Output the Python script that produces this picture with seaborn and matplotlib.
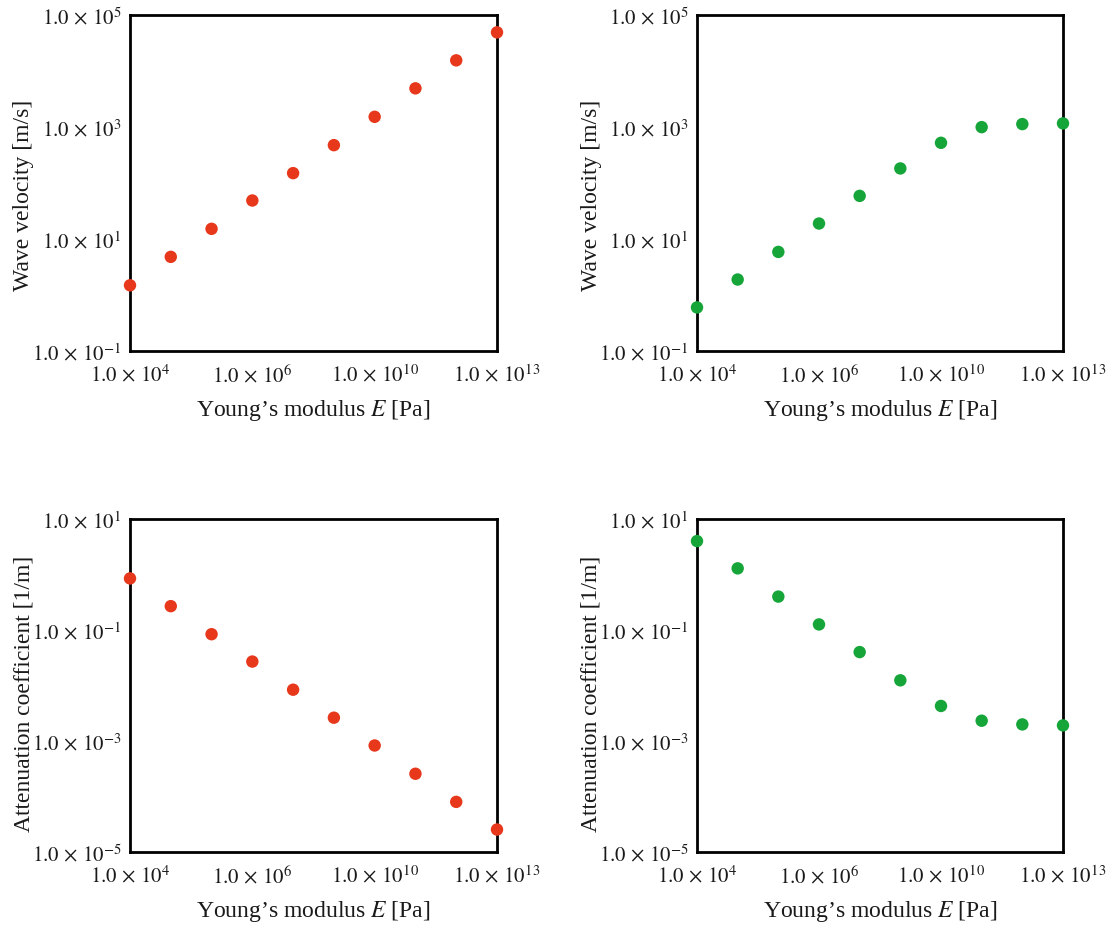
import matplotlib
matplotlib.use("Agg")
import matplotlib.pyplot as plt
import pandas as pd
import seaborn as sns
from matplotlib.ticker import NullLocator

# Young's modulus sweep (Pa)
modulus = [1e4, 1e5, 1e6, 1e7, 1e8, 1e9, 1e10, 1e11, 1e12, 1e13]

# Wave velocity (m/s)
velocity_red = [1.49, 4.8, 15.2, 48.7, 150, 474, 1520, 4900, 15500, 49000]
velocity_green = [0.60, 1.89, 5.88, 18.9, 58.9, 182, 522, 995, 1127, 1160]

# Attenuation coefficient (1/m)
atten_red = [0.85, 0.269, 0.084, 0.027, 0.0084, 0.00263, 0.00083, 0.000257, 8.0e-5, 2.54e-5]
atten_green = [4.0, 1.29, 0.40, 0.126, 0.040, 0.0124, 0.00428, 0.00232, 0.00199, 0.00191]

# Tick positions / label exponents
x_tick_pos = [1e4, 1e7, 1e10, 1e13]
x_tick_exp = [4, 6, 10, 13]
vel_tick_exp = [-1, 1, 3, 5]
att_tick_exp = [-5, -3, -1, 1]

RED = "#e8381c"
GREEN = "#16a539"
TEXT = "#1a1a1a"

sns.set_style("white")
plt.rcParams["font.family"] = ["Liberation Serif", "DejaVu Serif"]
plt.rcParams["mathtext.fontset"] = "stix"

W, H = 1117, 929
fig = plt.figure(figsize=(W / 100, H / 100), dpi=100)


def add_axes_px(left, top, right, bottom):
    return fig.add_axes([left / W, 1 - bottom / H, (right - left) / W, (bottom - top) / H])


def sci(e):
    return r"$1.0\,\times\,10^{%d}$" % e


panels = [
    ((130, 16, 497, 352), velocity_red, RED, vel_tick_exp, "Wave velocity [m/s]", 0.467),
    ((697, 16, 1063, 352), velocity_green, GREEN, vel_tick_exp, "Wave velocity [m/s]", 0.467),
    ((130, 520, 497, 853), atten_red, RED, att_tick_exp, "Attenuation coefficient [1/m]", 0.479),
    ((697, 520, 1063, 853), atten_green, GREEN, att_tick_exp, "Attenuation coefficient [1/m]", 0.479),
]

for rect, values, color, yexp, ylabel, ylab_y in panels:
    ax = add_axes_px(*rect)
    df = pd.DataFrame({"E": modulus, "v": values})
    sns.scatterplot(data=df, x="E", y="v", ax=ax, color=color, s=80,
                    edgecolor="none", linewidth=0, clip_on=False, zorder=3)
    ax.set_xscale("log")
    ax.set_yscale("log")
    ax.set_xlim(modulus[0], modulus[-1])
    yticks = [10.0 ** e for e in yexp]
    ax.set_ylim(yticks[0], yticks[-1])
    ax.set_xticks(x_tick_pos)
    ax.set_xticklabels([sci(e) for e in x_tick_exp])
    ax.set_yticks(yticks)
    ax.set_yticklabels([sci(e) for e in yexp])
    ax.xaxis.set_minor_locator(NullLocator())
    ax.yaxis.set_minor_locator(NullLocator())
    ax.tick_params(axis="both", length=0, labelsize=15, colors=TEXT)
    ax.tick_params(axis="x", pad=9)
    ax.tick_params(axis="y", pad=6)
    for sp in ax.spines.values():
        sp.set_visible(True)
        sp.set_color("black")
        sp.set_linewidth(2.0)
    ax.set_xlabel("Young’s modulus $E$ [Pa]", fontsize=17, color=TEXT)
    ax.set_ylabel(ylabel, fontsize=17, color=TEXT)
    ax.xaxis.label.set_va("center")
    ax.yaxis.label.set_va("center")
    ax.xaxis.set_label_coords(0.5, -0.175)
    ax.yaxis.set_label_coords(-0.289, ylab_y)
    ax.grid(False)

fig.savefig("out.png", dpi=100)
